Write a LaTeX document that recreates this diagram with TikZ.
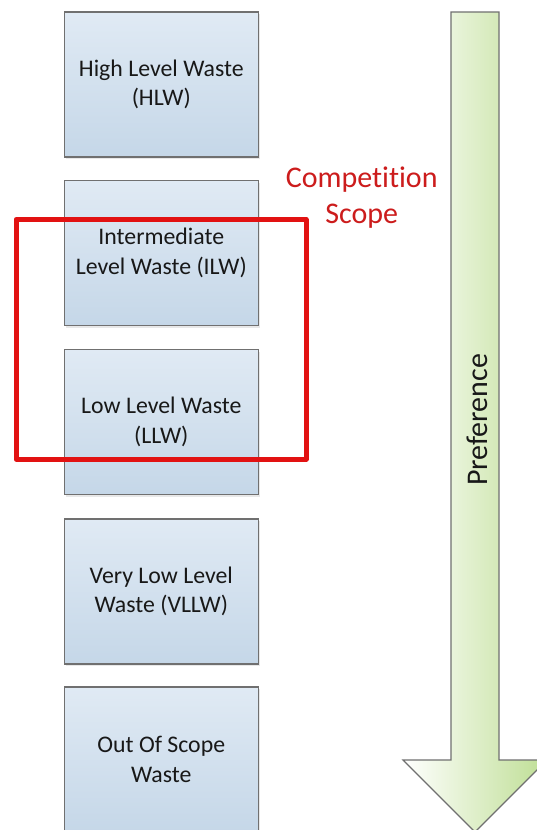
\documentclass[tikz,border=0pt]{standalone}
\usepackage{fontspec}
\setmainfont{Carlito}[Ligatures=NoCommon]
\usetikzlibrary{shadows}
\definecolor{boxtop}{RGB}{224,234,244}
\definecolor{boxbot}{RGB}{197,215,232}
\definecolor{boxline}{RGB}{112,112,112}
\definecolor{txt}{RGB}{24,24,24}
\definecolor{scopered}{RGB}{226,18,18}
\definecolor{labelred}{RGB}{204,28,28}
\definecolor{arrowgreen}{RGB}{190,222,148}
\begin{document}
\begin{tikzpicture}[x=1pt,y=-1pt,
  wastebox/.style={draw=boxline, line width=1.2pt, top color=boxtop, bottom color=boxbot,
    minimum width=194pt, minimum height=145pt, inner sep=0pt, align=center, text=txt,
    font=\fontsize{23.8}{29.3}\selectfont,
    drop shadow={shadow xshift=2pt, shadow yshift=-2pt, opacity=0.18}},
  scoperect/.style={draw=scopered, line width=5pt, line join=round},
  scopelabel/.style={text=labelred, align=center, font=\fontsize{30}{36}\selectfont, inner sep=0pt},
  prefarrow/.style={draw=boxline, line width=1.2pt, left color=white, right color=arrowgreen},
  preflabel/.style={text=txt, font=\fontsize{30}{36}\selectfont, inner sep=0pt}]
\useasboundingbox (0,0) rectangle (536,830);
\fill[white] (0,0) rectangle (536,830);

% preference arrow
\draw[prefarrow] (451,12) -- (499,12) -- (499,760) -- (547,760) -- (475,832)
  -- (403,760) -- (451,760) -- cycle;
\node[preflabel, rotate=90, anchor=base] (pref) at (487,420) {Preference};

% waste boxes
\node[wastebox] (hlw)  at (161.3,84.5)  {High Level Waste\\(HLW)};
\node[wastebox] (ilw)  at (161.3,253)   {Intermediate\\Level Waste (ILW)};
\node[wastebox] (llw)  at (161.3,422)   {Low Level Waste\\(LLW)};
\node[wastebox] (vllw) at (161.3,591.5) {Very Low Level\\Waste (VLLW)};
\node[wastebox] (oos)  at (161.3,759.5) {Out Of Scope\\Waste};

% competition scope
\draw[scoperect] (16,219.5) rectangle (306,459);
\node[scopelabel] (scope) at (361.7,198) {Competition\\Scope};
\end{tikzpicture}
\end{document}
